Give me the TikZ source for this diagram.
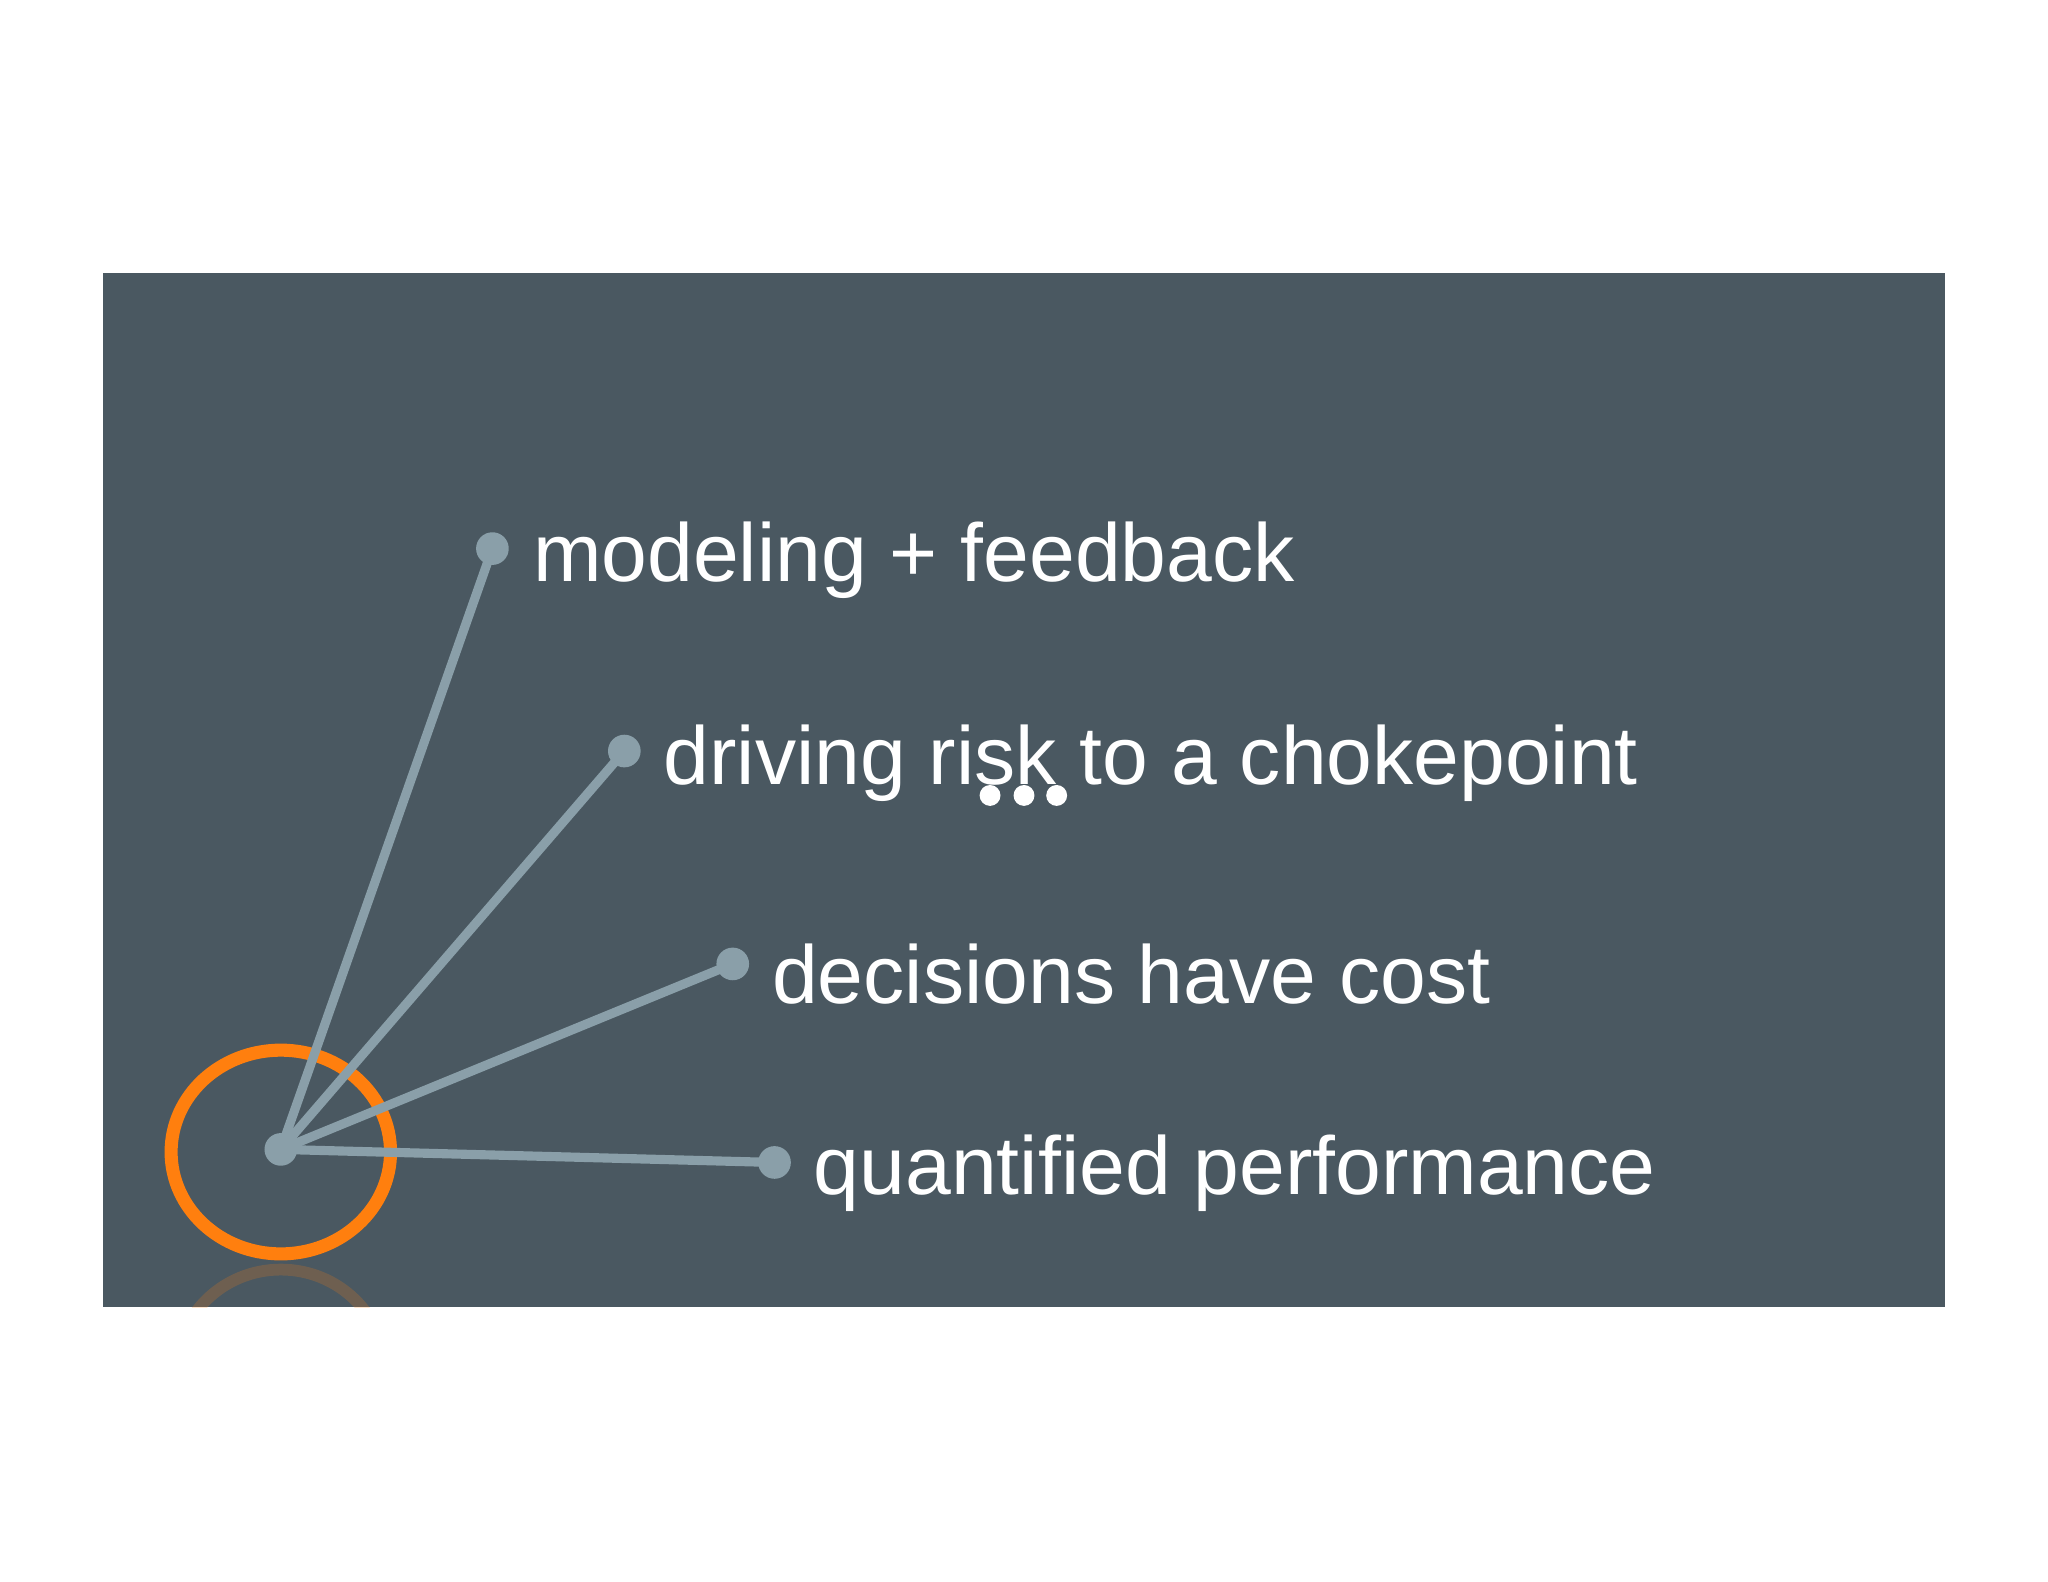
\documentclass[tikz,border=0pt]{standalone}
\usepackage{fontspec}
\setmainfont{Liberation Sans}
\definecolor{bg}{HTML}{4A5861}
\definecolor{ln}{HTML}{8A9FA9}
\definecolor{org}{HTML}{FF7F0E}
\begin{document}
\begin{tikzpicture}[x=1pt,y=-1pt,
  spoke/.style={ln,line width=7pt},
  enddot/.style={circle,fill=ln,inner sep=0pt,minimum size=25pt},
  lbl/.style={anchor=west,text=white,font=\fontsize{63}{63}\selectfont,inner sep=0pt}]
\useasboundingbox (0,0) rectangle (1568,1211);
\fill[white] (0,0) rectangle (1568,1211);
\fill[bg] (79,209) rectangle (1489,1001);
\begin{scope}
\clip (79,209) rectangle (1489,1001);
\draw[org,opacity=0.2,line width=9pt] (215,1050) ellipse (80 and 78);
\end{scope}
\draw[org,line width=10pt] (215,882) ellipse (84 and 78);
\node[enddot] (hub) at (215,880) {};
\node[enddot] (a) at (377,420) {};
\node[enddot] (b) at (478,575) {};
\node[enddot] (c) at (561,738) {};
\node[enddot] (d) at (593,890) {};
\draw[spoke] (hub.center) -- (a.center);
\draw[spoke] (hub.center) -- (b.center);
\draw[spoke] (hub.center) -- (c.center);
\draw[spoke] (hub.center) -- (d.center);
\node[lbl] (ta) at (408,429) {modeling + feedback};
\node[lbl] (tb) at (508,584) {driving risk to a chokepoint};
\node[lbl] (tc) at (591,746) {decisions have cost};
\node[lbl] (td) at (623,898) {quantified performance};
\foreach \x/\n in {758/p1,784/p2,809/p3}
  \node[circle,fill=white,inner sep=0pt,minimum size=16pt] (\n) at (\x,609) {};
\end{tikzpicture}
\end{document}
